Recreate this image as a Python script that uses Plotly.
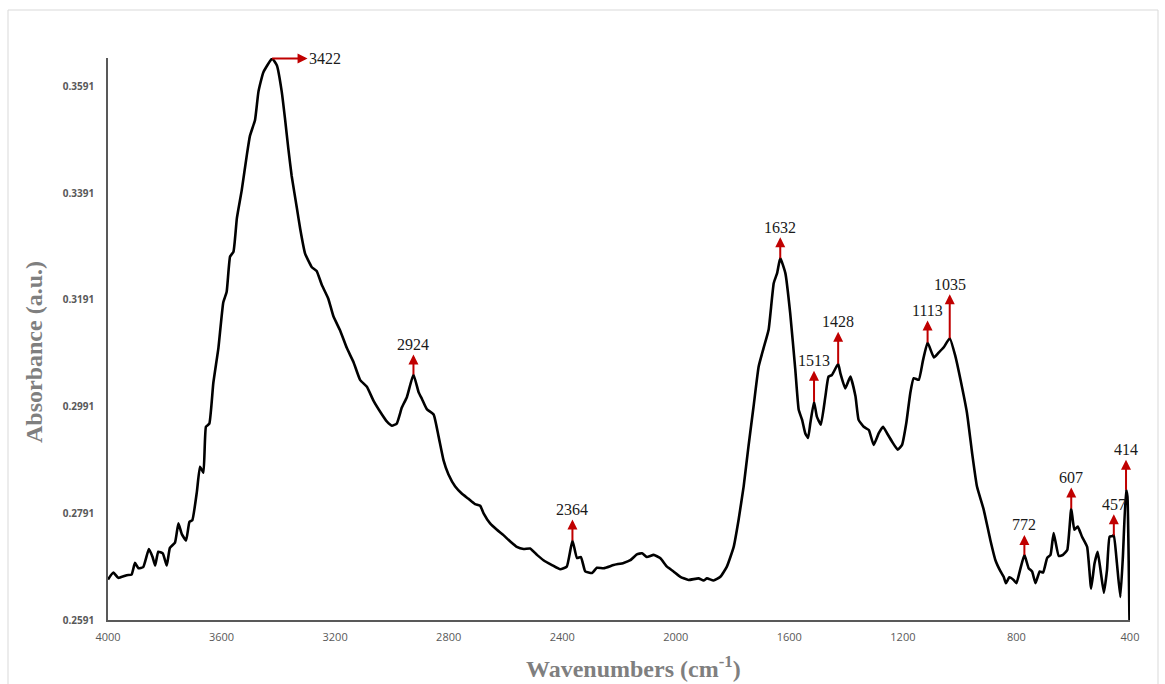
import plotly.graph_objects as go

# ---- data ----
wavenumber = [4000, 3981, 3964, 3934, 3917, 3905, 3893, 3876, 3856, 3843, 3834, 3823, 3807, 3793, 3782,
              3764, 3752, 3740, 3725, 3713, 3703, 3687, 3676, 3664, 3655, 3643, 3629, 3611, 3594, 3582,
              3570, 3558, 3546, 3529, 3511, 3500, 3482, 3470, 3453, 3422, 3405, 3388, 3376, 3365, 3353,
              3335, 3323, 3306, 3282, 3265, 3247, 3224, 3206, 3182, 3159, 3135, 3112, 3088, 3065, 3035,
              3018, 3000, 2983, 2965, 2947, 2924, 2906, 2894, 2877, 2853, 2836, 2818, 2801, 2777, 2754,
              2730, 2707, 2689, 2677, 2654, 2630, 2607, 2583, 2560, 2536, 2513, 2489, 2466, 2436, 2407,
              2384, 2364, 2348, 2334, 2319, 2295, 2278, 2254, 2219, 2184, 2160, 2137, 2119, 2102, 2078,
              2055, 2031, 2008, 1984, 1955, 1920, 1902, 1890, 1867, 1843, 1820, 1796, 1779, 1761, 1744,
              1726, 1708, 1691, 1673, 1655, 1643, 1632, 1614, 1597, 1579, 1567, 1555, 1544, 1534, 1526,
              1513, 1503, 1489, 1473, 1462, 1450, 1428, 1420, 1403, 1385, 1367, 1356, 1338, 1320, 1303,
              1285, 1270, 1256, 1238, 1218, 1203, 1188, 1174, 1162, 1144, 1129, 1113, 1091, 1074, 1056,
              1035, 1015, 997, 974, 956, 939, 915, 892, 874, 856, 845, 837, 825, 810, 800,
              788, 772, 757, 745, 733, 718, 706, 692, 680, 669, 651, 636, 621, 607, 596,
              584, 569, 551, 537, 525, 514, 504, 492, 481, 472, 463, 457, 446, 434, 425,
              414, 409, 402, 400]

absorbance = [0.2667, 0.2680, 0.2670, 0.2675, 0.2676, 0.2698, 0.2688, 0.2690, 0.2724, 0.2709, 0.2693, 0.2719, 0.2716, 0.2693, 0.2726,
              0.2736, 0.2772, 0.2752, 0.2740, 0.2775, 0.2778, 0.2831, 0.2878, 0.2867, 0.2953, 0.2959, 0.3035, 0.3101, 0.3186, 0.3206,
              0.3272, 0.3281, 0.3344, 0.3396, 0.3462, 0.3498, 0.3528, 0.3581, 0.3617, 0.3643, 0.3630, 0.3581, 0.3528, 0.3475, 0.3423,
              0.3364, 0.3324, 0.3278, 0.3252, 0.3245, 0.3219, 0.3193, 0.3160, 0.3133, 0.3101, 0.3074, 0.3041, 0.3028, 0.3002, 0.2976,
              0.2963, 0.2955, 0.2959, 0.2989, 0.3009, 0.3051, 0.3018, 0.3005, 0.2986, 0.2976, 0.2936, 0.2890, 0.2864, 0.2841, 0.2828,
              0.2818, 0.2808, 0.2805, 0.2791, 0.2772, 0.2760, 0.2750, 0.2738, 0.2728, 0.2724, 0.2725, 0.2713, 0.2703, 0.2694, 0.2686,
              0.2691, 0.2740, 0.2707, 0.2709, 0.2682, 0.2679, 0.2689, 0.2688, 0.2694, 0.2698, 0.2703, 0.2714, 0.2716, 0.2709, 0.2713,
              0.2707, 0.2691, 0.2682, 0.2672, 0.2666, 0.2669, 0.2665, 0.2669, 0.2665, 0.2672, 0.2691, 0.2728, 0.2778, 0.2841, 0.2916,
              0.2991, 0.3066, 0.3100, 0.3135, 0.3222, 0.3241, 0.3269, 0.3241, 0.3166, 0.3060, 0.2985, 0.2966, 0.2941, 0.2932, 0.2960,
              0.3000, 0.2972, 0.2957, 0.3010, 0.3047, 0.3050, 0.3071, 0.3053, 0.3025, 0.3047, 0.3010, 0.2966, 0.2953, 0.2947, 0.2919,
              0.2941, 0.2953, 0.2941, 0.2925, 0.2910, 0.2919, 0.2960, 0.3016, 0.3044, 0.3041, 0.3078, 0.3111, 0.3083, 0.3092, 0.3102,
              0.3119, 0.3085, 0.3041, 0.2978, 0.2903, 0.2841, 0.2797, 0.2741, 0.2703, 0.2682, 0.2672, 0.2660, 0.2671, 0.2666, 0.2660,
              0.2683, 0.2713, 0.2688, 0.2682, 0.2660, 0.2682, 0.2680, 0.2707, 0.2713, 0.2754, 0.2711, 0.2713, 0.2722, 0.2800, 0.2760,
              0.2766, 0.2747, 0.2728, 0.2650, 0.2697, 0.2719, 0.2685, 0.2642, 0.2685, 0.2747, 0.2748, 0.2750, 0.2697, 0.2634, 0.2710,
              0.2835, 0.2822, 0.2597, 0.2560]

peak_labels = [3422, 2924, 2364, 1632, 1513, 1428, 1113, 1035, 772, 607, 457, 414]

x_ticks = [4000, 3600, 3200, 2800, 2400, 2000, 1600, 1200, 800, 400]
y_ticks = [0.2591, 0.2791, 0.2991, 0.3191, 0.3391, 0.3591]

# ---- styling ----
arrow_len = {2924: 18, 2364: 19, 1632: 19, 1513: 29, 1428: 30, 1113: 20,
             1035: 42, 772: 18, 607: 19, 457: 19, 414: 28}
RED = "#c00000"
LABEL_FONT = dict(family="Liberation Serif, Times New Roman, serif", size=16, color="#1a1a1a")
TICK_COLOR = "#595959"
TITLE_COLOR = "#7f7f7f"

fig = go.Figure()
fig.add_trace(go.Scatter(
    x=wavenumber, y=absorbance, mode="lines",
    line=dict(color="black", width=2.6, shape="spline", smoothing=0.4),
    hoverinfo="x+y", showlegend=False,
))

annotations = []
lookup = dict(zip(wavenumber, absorbance))
for wn in peak_labels:
    yv = lookup[wn]
    if wn == 3422:
        annotations.append(dict(
            x=wn, y=yv, xref="x", yref="y", text=str(wn), font=LABEL_FONT,
            showarrow=True, arrowside="start", ax=53, ay=0,
            arrowcolor=RED, arrowwidth=2, startarrowhead=2, startarrowsize=1,
            borderpad=1,
        ))
    else:
        L = arrow_len[wn]
        annotations.append(dict(
            x=wn, y=yv, xref="x", yref="y", text=str(wn), font=LABEL_FONT,
            showarrow=True, arrowside="start", ax=0, ay=-(L + 12),
            arrowcolor=RED, arrowwidth=2, startarrowhead=2, startarrowsize=1,
            borderpad=1,
        ))

# axis titles
PW, PH = 1022.0, 562.0
annotations.append(dict(
    text="Absorbance (a.u.)", xref="paper", yref="paper",
    x=(34 - 108) / PW, y=(620 - 352) / PH, textangle=-90, showarrow=False,
    xanchor="center", yanchor="middle",
    font=dict(family="Liberation Serif, Times New Roman, serif", size=24, color=TITLE_COLOR, weight="bold"),
))
annotations.append(dict(
    text="Wavenumbers (cm<sup>-1</sup>)", xref="paper", yref="paper",
    x=(633 - 108) / PW, y=(620 - 667) / PH, showarrow=False,
    xanchor="center", yanchor="middle",
    font=dict(family="Liberation Serif, Times New Roman, serif", size=24, color=TITLE_COLOR, weight="bold"),
))

shapes = [dict(
    type="rect", xref="paper", yref="paper",
    x0=(8 - 108) / PW, x1=(1158 - 108) / PW, y0=(620 - 695) / PH, y1=(620 - 10) / PH,
    line=dict(color="#d9d9d9", width=1), fillcolor="rgba(0,0,0,0)", layer="below",
)]

fig.update_layout(
    width=1165, height=684,
    margin=dict(l=108, r=35, t=58, b=64, pad=0),
    paper_bgcolor="white", plot_bgcolor="white",
    annotations=annotations, shapes=shapes,
    xaxis=dict(
        range=[4000, 400], tickvals=x_ticks, ticktext=[str(v) for v in x_ticks],
        showgrid=False, zeroline=False, showline=True, linecolor="#595959", linewidth=1.5,
        ticks="", ticklabelstandoff=6,
        tickfont=dict(family="Open Sans, sans-serif", size=11, color=TICK_COLOR),
    ),
    yaxis=dict(
        range=[0.2591, 0.3644], tickvals=y_ticks, ticktext=[f"{v:.4f}" for v in y_ticks],
        showgrid=False, zeroline=False, showline=True, linecolor="#595959", linewidth=1.5,
        ticks="", ticklabelstandoff=10,
        tickfont=dict(family="Open Sans, sans-serif", size=10, color=TICK_COLOR, weight="bold"),
    ),
)

fig.write_html("out.html")
